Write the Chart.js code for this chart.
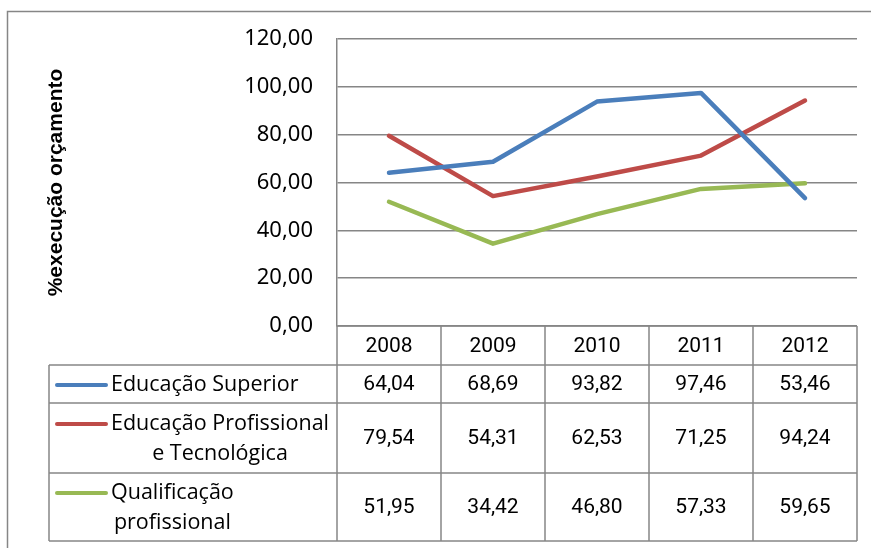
<!DOCTYPE html>
<html>
<head>
<meta charset="utf-8">
<script src="https://cdn.jsdelivr.net/npm/chart.js@4.4.1/dist/chart.umd.min.js"></script>
<style>
  html, body { margin: 0; padding: 0; background: #fff; }
  #wrap { width: 871px; height: 548px; }
</style>
</head>
<body>
<div id="wrap"><canvas id="chart" width="871" height="548"></canvas></div>
<script>
const years = ['2008', '2009', '2010', '2011', '2012'];
const educacaoSuperior = [64.04, 68.69, 93.82, 97.46, 53.46];
const educacaoProfissional = [79.54, 54.31, 62.53, 71.25, 94.24];
const qualificacaoProfissional = [51.95, 34.42, 46.80, 57.33, 59.65];
const seriesNames = [
    ['Educação Superior'],
    ['Educação Profissional', 'e Tecnológica'],
    ['Qualificação', 'profissional']
];
const yAxisTitle = '%execução orçamento';

const gridGray = '#868686';

function fmt(v) {
    return v.toFixed(2).replace('.', ',');
}

// data table under the plot, drawn against the x scale columns
const tablePlugin = {
    id: 'dataTable',
    beforeDraw(chart) {
        const ctx = chart.ctx;
        ctx.save();
        ctx.strokeStyle = gridGray;
        ctx.lineWidth = 1.5;
        ctx.strokeRect(7.5, 11.5, 900, 600);
        ctx.restore();
    },
    afterDraw(chart) {
        const ctx = chart.ctx;
        const x = chart.scales.x;
        const area = chart.chartArea;
        const colW = x.width / years.length;
        const rows = [0, 39, 77, 147, 215].map(o => area.bottom + o);
        const legendLeft = 49;

        ctx.save();
        ctx.strokeStyle = gridGray;
        ctx.lineWidth = 1.5;
        ctx.beginPath();
        // horizontal lines
        ctx.moveTo(area.left, rows[0]); ctx.lineTo(area.right, rows[0]);
        for (let r = 1; r < rows.length; r++) {
            ctx.moveTo(legendLeft, rows[r]); ctx.lineTo(area.right, rows[r]);
        }
        // vertical lines
        ctx.moveTo(legendLeft, rows[1]); ctx.lineTo(legendLeft, rows[4]);
        for (let i = 0; i <= years.length; i++) {
            const xx = area.left + i * colW;
            ctx.moveTo(xx, rows[0]); ctx.lineTo(xx, rows[4]);
        }
        ctx.stroke();

        ctx.fillStyle = '#000';
        ctx.textAlign = 'center';
        ctx.textBaseline = 'middle';
        ctx.font = '21px Roboto';
        years.forEach((y, i) => {
            ctx.fillText(y, x.getPixelForTick(i), (rows[0] + rows[1]) / 2 + 1);
        });

        chart.data.datasets.forEach((ds, r) => {
            const yMid = (rows[r + 1] + rows[r + 2]) / 2 + 1;
            ctx.font = '21px Roboto';
            ctx.textAlign = 'center';
            ds.data.forEach((v, i) => {
                ctx.fillText(fmt(v), x.getPixelForTick(i), yMid);
            });

            // legend key + series name
            const lines = seriesNames[r];
            const lineH = 30;
            const firstY = yMid - (lines.length - 1) * lineH / 2;
            ctx.strokeStyle = ds.borderColor;
            ctx.lineWidth = 4;
            ctx.lineCap = 'round';
            ctx.beginPath();
            ctx.moveTo(57, firstY); ctx.lineTo(106, firstY);
            ctx.stroke();

            ctx.font = '21.5px "Open Sans"';
            const maxW = Math.max(...lines.map(t => ctx.measureText(t).width));
            const cx = 111 + maxW / 2;
            lines.forEach((t, k) => {
                ctx.fillText(t, cx, firstY + k * lineH);
            });
        });
        ctx.restore();
    }
};

const chart = new Chart(document.getElementById('chart'), {
    type: 'line',
    data: {
        labels: years,
        datasets: [
            { label: seriesNames[0].join(' '), data: educacaoSuperior, borderColor: '#4A7EBB' },
            { label: seriesNames[1].join(' '), data: educacaoProfissional, borderColor: '#BE4B48' },
            { label: seriesNames[2].join(' '), data: qualificacaoProfissional, borderColor: '#98B954' }
        ].map(d => Object.assign(d, {
            borderWidth: 4.5,
            pointRadius: 0,
            tension: 0,
            borderCapStyle: 'round',
            borderJoinStyle: 'round',
            fill: false
        }))
    },
    options: {
        responsive: false,
        animation: false,
        layout: { padding: { left: 44, top: 39, right: 14, bottom: 222 } },
        plugins: {
            legend: { display: false },
            tooltip: { enabled: false }
        },
        scales: {
            x: {
                offset: true,
                grid: { display: false, drawTicks: false },
                border: { display: false },
                ticks: { display: false },
                afterFit: s => { s.height = 0; }
            },
            y: {
                min: 0,
                max: 120,
                ticks: {
                    stepSize: 20,
                    padding: 24,
                    color: '#000',
                    font: { family: '"Noto Sans"', size: 22 },
                    callback: v => fmt(v)
                },
                grid: { color: gridGray, lineWidth: 1.5, drawTicks: false },
                border: { color: gridGray, width: 1.5 },
                title: {
                    display: true,
                    text: yAxisTitle,
                    color: '#000',
                    font: { family: '"Liberation Sans"', size: 21, weight: 'bold' },
                    padding: 0
                },
                afterFit: s => { s.width = 293; }
            }
        }
    },
    plugins: [tablePlugin]
});
</script>
</body>
</html>
